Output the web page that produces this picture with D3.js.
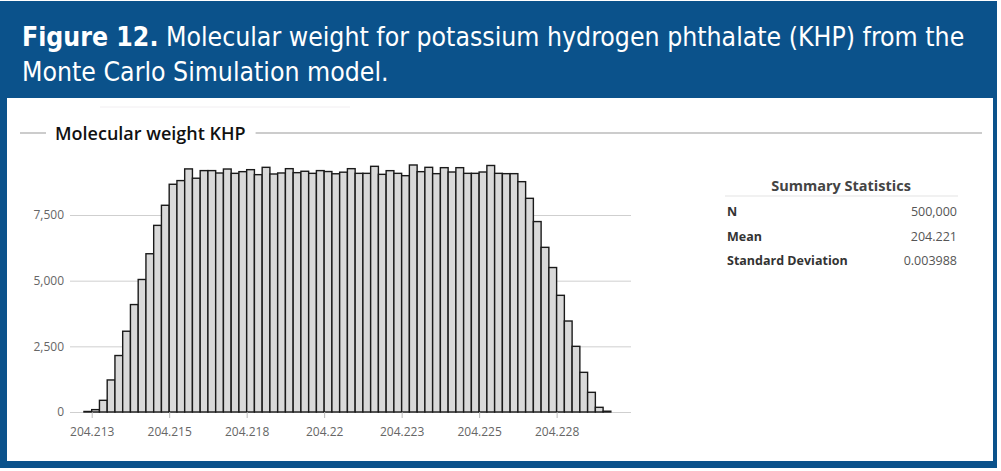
<!DOCTYPE html>
<html lang="en">
<head>
    <meta charset="UTF-8">
    <title>Molecular weight KHP</title>
    <script src="https://cdnjs.cloudflare.com/ajax/libs/d3/7.8.5/d3.min.js"></script>
    <style>
        body { margin: 0; background: #fff; }
        svg { display: block; }
    </style>
</head>
<body>
    <div id="chart"></div>

    <script>
        // histogram bins (lower edges) and counts
        const binStart = 204.21225;
        const binWidth = 0.00025;
        const counts = [
            20, 90, 445, 1220, 2150, 3075, 4090, 5045, 6025, 7105,
            7870, 8670, 8810, 9255, 8900, 9190, 9190, 9099, 9251, 9086,
            9150, 9226, 9036, 9315, 9061, 9100, 9264, 9112, 9165, 9086,
            9190, 9155, 9070, 9130, 9264, 9086, 9086, 9353, 9048, 9188,
            9086, 8997, 9404, 9150, 9315, 9074, 9302, 9137, 9302, 9086,
            9086, 9137, 9385, 9086, 9074, 9074, 8769, 8135, 7250, 6269,
            5500, 4442, 3464, 2500, 1510, 749, 178, 30
        ];

        const xTicks = [204.2125, 204.215, 204.2175, 204.22, 204.2225, 204.225, 204.2275];
        const xTickLabels = ['204.213', '204.215', '204.218', '204.22', '204.223', '204.225', '204.228'];
        const yTicks = [0, 2500, 5000, 7500];

        const statLabels = ['N', 'Mean', 'Standard Deviation'];
        const statValues = ['500,000', '204.221', '0.003988'];

        const width = 1001;
        const height = 471;
        const blue = '#0b528b';

        const svg = d3.select('#chart')
            .append('svg')
            .attr('width', width)
            .attr('height', height);

        // frame + header band
        svg.append('rect')
            .attr('x', 0)
            .attr('y', 1)
            .attr('width', 997)
            .attr('height', 467)
            .attr('fill', blue);
        svg.append('rect')
            .attr('x', 7)
            .attr('y', 98)
            .attr('width', 986)
            .attr('height', 363)
            .attr('fill', '#fff');

        const head = svg.append('text')
            .attr('fill', '#fff')
            .style('font-family', '"Liberation Sans Narrow", "DejaVu Sans Condensed", Arial, sans-serif')
            .style('font-size', '26.4px');
        const l1 = head.append('tspan').attr('x', 22).attr('y', 46);
        l1.append('tspan').style('font-weight', 'bold').text('Figure 12.');
        l1.append('tspan').text(' Molecular weight for potassium hydrogen phthalate (KHP) from the');
        head.append('tspan').attr('x', 22).attr('y', 81).text('Monte Carlo Simulation model.');

        // faint line near top of panel
        svg.append('line')
            .attr('x1', 100).attr('x2', 350)
            .attr('y1', 107).attr('y2', 107)
            .attr('stroke', '#f1eef1');

        const font = '"Open Sans", "Noto Sans", sans-serif';

        // chart title with rule on either side
        const title = svg.append('text')
            .attr('x', 55)
            .attr('y', 140)
            .attr('fill', '#111')
            .style('font-family', font)
            .style('font-size', '18px')
            .style('font-weight', 600)
            .text('Molecular weight KHP');
        const tw = title.node().getComputedTextLength();
        svg.append('line')
            .attr('x1', 20).attr('x2', 46)
            .attr('y1', 133).attr('y2', 133)
            .attr('stroke', '#999');
        svg.append('line')
            .attr('x1', 55 + tw + 10).attr('x2', 982)
            .attr('y1', 133).attr('y2', 133)
            .attr('stroke', '#999');

        // scales
        const x = d3.scaleLinear()
            .domain([204.2118, 204.2299])
            .range([70, 631]);

        const y = d3.scaleLinear()
            .domain([0, 7500])
            .range([412, 215]);

        // y grid + labels
        const yAxis = svg.append('g')
            .attr('transform', 'translate(70,0)')
            .call(d3.axisLeft(y)
                .tickValues(yTicks)
                .tickSize(-(631 - 70))
                .tickPadding(6)
                .tickFormat(d3.format(',')));
        yAxis.select('.domain').remove();
        yAxis.selectAll('.tick line').attr('stroke', '#cfcfcf');
        yAxis.selectAll('.tick text')
            .attr('fill', '#666')
            .style('font-family', font)
            .style('font-size', '12px');

        // bars
        svg.append('g')
            .selectAll('rect')
            .data(counts)
            .enter()
            .append('rect')
            .attr('x', (d, i) => x(binStart + i * binWidth))
            .attr('y', d => y(d))
            .attr('width', (d, i) => x(binStart + (i + 1) * binWidth) - x(binStart + i * binWidth))
            .attr('height', d => y(0) - y(d))
            .attr('fill', '#d9d9d9')
            .attr('stroke', '#1a1a1a')
            .attr('stroke-width', 1.4);

        // x axis
        const xAxis = svg.append('g')
            .attr('transform', `translate(0,${y(0)})`)
            .call(d3.axisBottom(x)
                .tickValues(xTicks)
                .tickSize(6)
                .tickPadding(9)
                .tickFormat((d, i) => xTickLabels[i]));
        xAxis.select('.domain').remove();
        xAxis.selectAll('.tick line').attr('stroke', '#bbb');
        xAxis.selectAll('.tick text')
            .attr('fill', '#666')
            .style('font-family', font)
            .style('font-size', '12px');

        // summary statistics table
        svg.append('text')
            .attr('x', 841)
            .attr('y', 191)
            .attr('text-anchor', 'middle')
            .attr('fill', '#444')
            .style('font-family', font)
            .style('font-size', '14.5px')
            .style('font-weight', 'bold')
            .text('Summary Statistics');
        svg.append('line')
            .attr('x1', 725).attr('x2', 958)
            .attr('y1', 196).attr('y2', 196)
            .attr('stroke', '#e3e3e3');

        const rows = svg.append('g')
            .selectAll('g')
            .data(statLabels)
            .enter()
            .append('g')
            .attr('transform', (d, i) => `translate(0,${216 + i * 24.5})`);
        rows.append('text')
            .attr('x', 727)
            .attr('fill', '#333')
            .style('font-family', font)
            .style('font-size', '12.5px')
            .style('font-weight', 'bold')
            .text(d => d);
        rows.append('text')
            .attr('x', 957)
            .attr('text-anchor', 'end')
            .attr('fill', '#555')
            .style('font-family', font)
            .style('font-size', '12.5px')
            .text((d, i) => statValues[i]);
    </script>
</body>
</html>
